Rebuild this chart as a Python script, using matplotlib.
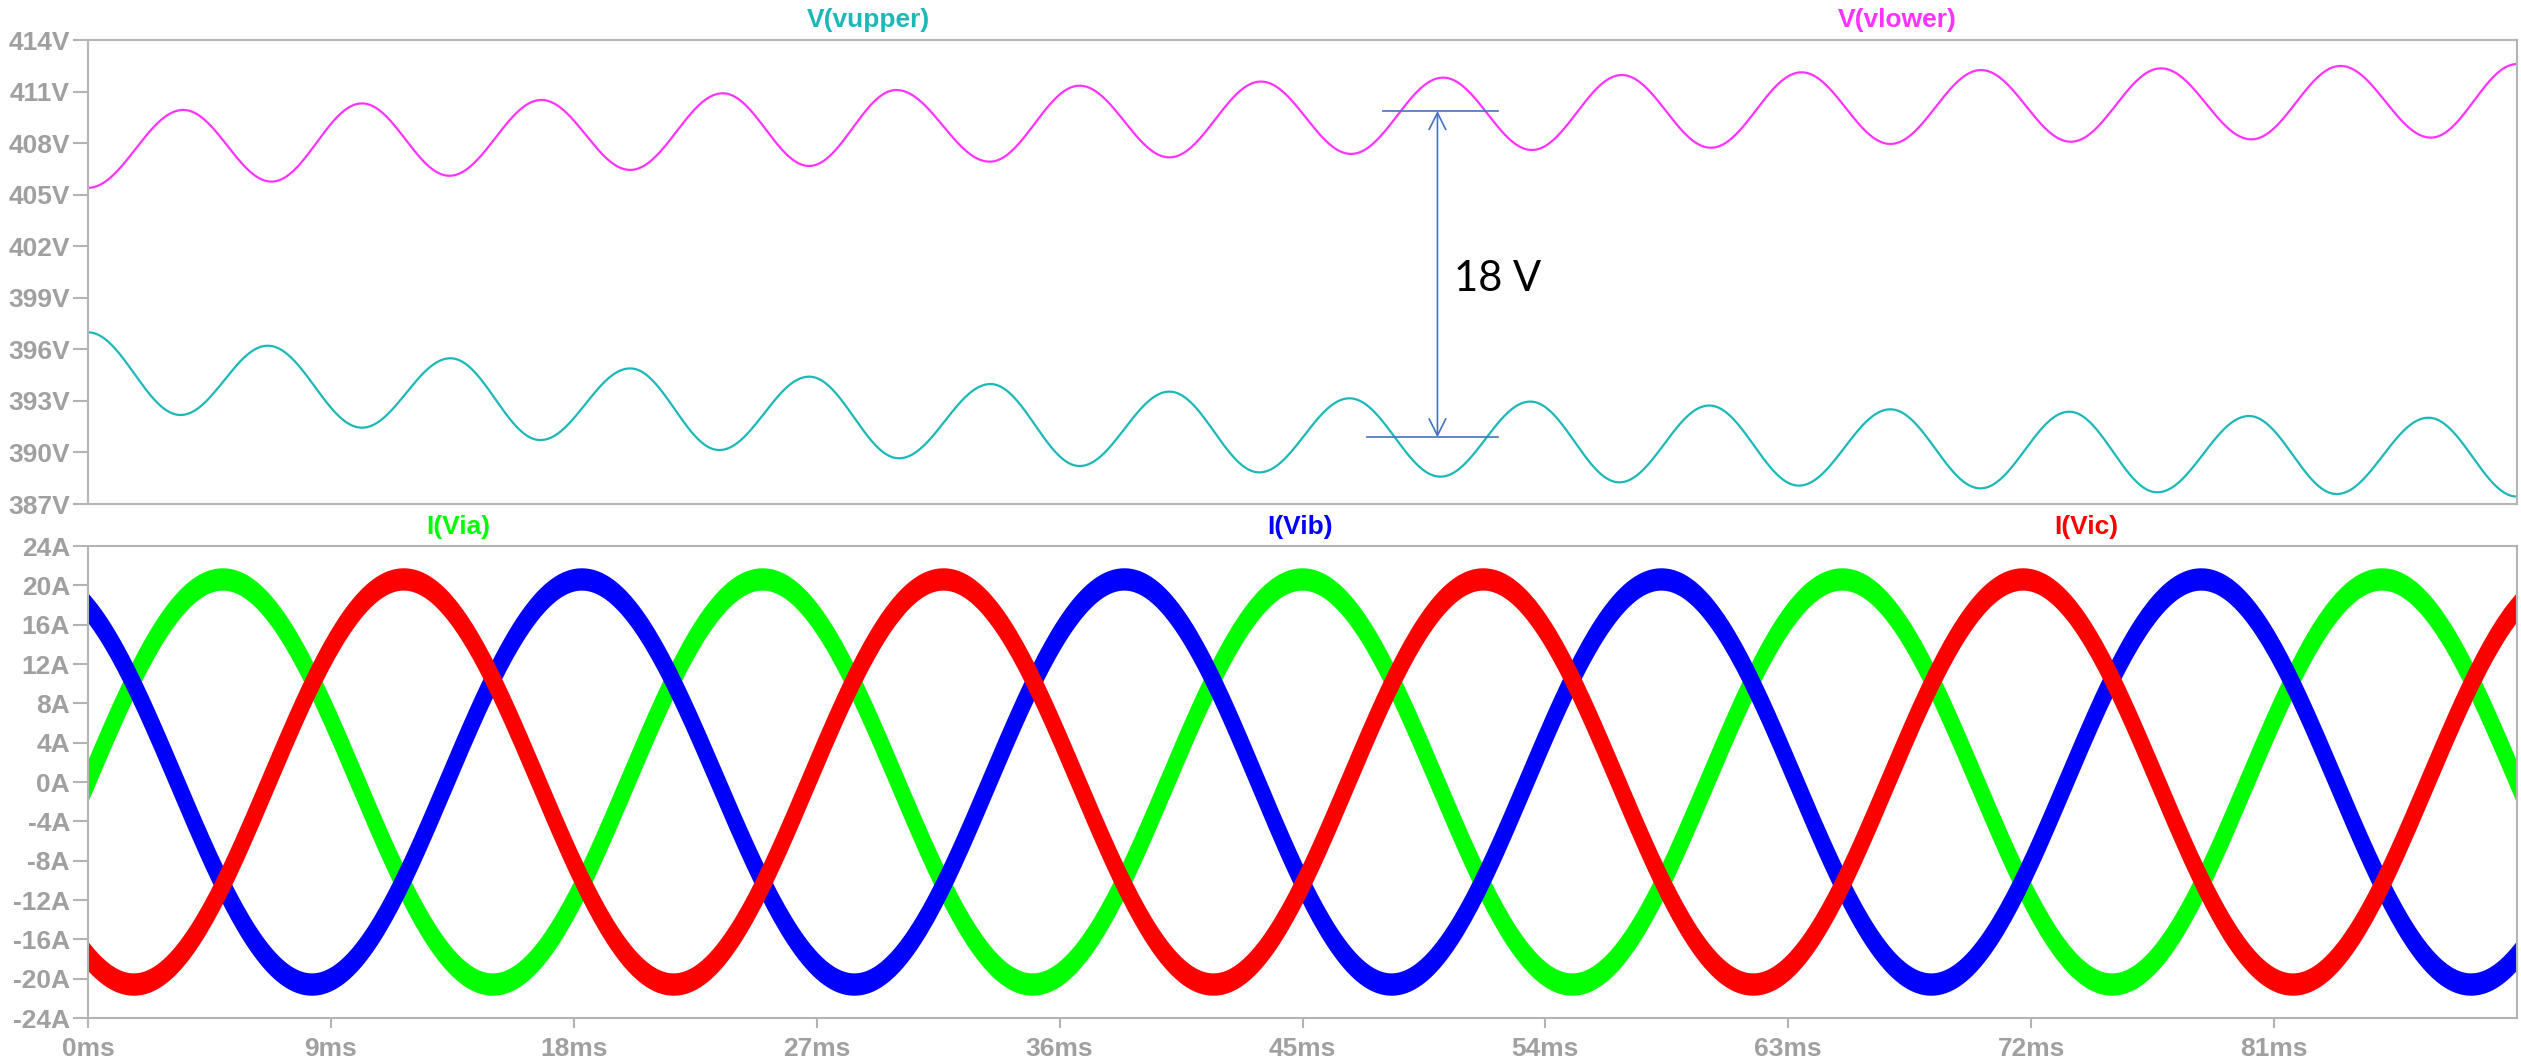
import numpy as np
import matplotlib
matplotlib.use('Agg')
import matplotlib.pyplot as plt

# figure size in pixels (dpi 100)
W, H = 2521, 1063

# extrema: time (ms) and voltage (V)
VLOWER_T = [0.0, 3.53, 6.80, 10.15, 13.39, 16.80, 20.09, 23.52, 26.72, 29.95,
            33.41, 36.74, 40.07, 43.46, 46.80, 50.21, 53.50, 56.83, 60.13, 63.49,
            66.78, 70.14, 73.47, 76.81, 80.16, 83.46, 86.81, 90.0]
VLOWER_V = [405.4, 409.93, 405.76, 410.31, 406.1, 410.51, 406.44, 410.9, 406.67, 411.09,
            406.92, 411.34, 407.17, 411.58, 407.37, 411.81, 407.6, 411.96, 407.73, 412.12,
            407.95, 412.25, 408.08, 412.35, 408.22, 412.49, 408.32, 412.6]

VUPPER_T = [0.0, 3.43, 6.66, 10.15, 13.43, 16.76, 20.09, 23.39, 26.72, 30.05,
            33.44, 36.74, 40.07, 43.40, 46.74, 50.11, 53.44, 56.74, 60.07, 63.39,
            66.78, 70.12, 73.41, 76.67, 80.07, 83.32, 86.72, 90.0]
VUPPER_V = [396.99, 392.18, 396.21, 391.44, 395.48, 390.72, 394.89, 390.14, 394.41, 389.66,
            393.98, 389.21, 393.54, 388.84, 393.15, 388.59, 392.96, 388.26, 392.73, 388.07,
            392.51, 387.91, 392.37, 387.68, 392.12, 387.58, 392.02, 387.43]

# current extrema: time (ms) and current (A)
IA_T = [-5.0, 5.0, 15.0, 25.0, 35.0, 45.0, 55.0, 65.0, 75.0, 85.0, 95.0]
IA_V = [-20.6, 20.6, -20.6, 20.6, -20.6, 20.6, -20.6, 20.6, -20.6, 20.6, -20.6]
IB_T = [-1.7, 8.3, 18.3, 28.4, 38.4, 48.3, 58.3, 68.3, 78.3, 88.3, 98.3]
IB_V = [20.6, -20.6, 20.6, -20.6, 20.6, -20.6, 20.6, -20.6, 20.6, -20.6, 20.6]
IC_T = [-8.3, 1.7, 11.7, 21.7, 31.7, 41.7, 51.7, 61.7, 71.7, 81.7, 91.7]
IC_V = [20.6, -20.6, 20.6, -20.6, 20.6, -20.6, 20.6, -20.6, 20.6, -20.6, 20.6]

# half height of the switching-noise band on the currents (A)
NOISE_BAND = 0.5

# annotation levels (V) and position (ms)
MARK_HIGH = 409.87
MARK_LOW = 390.88
MARK_T = 50.0

V_TICKS = [387, 390, 393, 396, 399, 402, 405, 408, 411, 414]
V_LABELS = ['387V', '390V', '393V', '396V', '399V', '402V', '405V', '408V', '411V', '414V']
I_TICKS = [-24, -20, -16, -12, -8, -4, 0, 4, 8, 12, 16, 20, 24]
I_LABELS = ['-24A', '-20A', '-16A', '-12A', '-8A', '-4A', '0A', '4A', '8A',
            '12A', '16A', '20A', '24A']
T_TICKS = [0, 9, 18, 27, 36, 45, 54, 63, 72, 81]
T_LABELS = ['0ms', '9ms', '18ms', '27ms', '36ms', '45ms', '54ms', '63ms', '72ms', '81ms']

CYAN = '#1cb8b8'
MAGENTA = '#ff33ff'
GREEN = '#00ff00'
BLUE = '#0000ff'
RED = '#ff0000'
GRID = '#b4b4b4'
LABEL = '#a0a0a0'
ANNOT = '#4472c4'

plt.rcParams['font.family'] = ['Liberation Sans', 'DejaVu Sans']


def cosine_join(t_pts, v_pts, n=80):
    tt, vv = [], []
    for i in range(len(t_pts) - 1):
        s = np.linspace(0, 1, n, endpoint=False)
        tt.append(t_pts[i] + (t_pts[i + 1] - t_pts[i]) * s)
        vv.append(v_pts[i] + (v_pts[i + 1] - v_pts[i]) * (1 - np.cos(np.pi * s)) / 2)
    tt.append([t_pts[-1]])
    vv.append([v_pts[-1]])
    return np.concatenate(tt), np.concatenate(vv)


def style_axes(ax, ticks, labels, show_x):
    for sp in ax.spines.values():
        sp.set_color(GRID)
        sp.set_linewidth(1.5)
    ax.set_xlim(0, 90)
    ax.set_ylim(ticks[0], ticks[-1])
    ax.set_yticks(ticks)
    ax.set_yticklabels(labels)
    ax.tick_params(axis='y', direction='out', length=11, width=1.5, color=GRID,
                   labelcolor=LABEL, labelsize=19, pad=2)
    for lbl in ax.get_yticklabels():
        lbl.set_fontweight('bold')
    if show_x:
        ax.set_xticks(T_TICKS)
        ax.set_xticklabels(T_LABELS)
        ax.tick_params(axis='x', direction='out', length=7, width=1.5, color=GRID,
                       labelcolor=LABEL, labelsize=19, pad=7)
        for lbl in ax.get_xticklabels():
            lbl.set_fontweight('bold')
    else:
        ax.set_xticks([])


def fig_rect(x0, y0, x1, y1):
    return [x0 / W, 1 - y1 / H, (x1 - x0) / W, (y1 - y0) / H]


def main():
    fig = plt.figure(figsize=(W / 100, H / 100), dpi=100)

    ax_v = fig.add_axes(fig_rect(88, 40, 2517, 504))
    ax_i = fig.add_axes(fig_rect(88, 546, 2517, 1018))

    # voltages
    t, v = cosine_join(VLOWER_T, VLOWER_V)
    ax_v.plot(t, v, color=MAGENTA, lw=1.6)
    t, v = cosine_join(VUPPER_T, VUPPER_V)
    ax_v.plot(t, v, color=CYAN, lw=1.6)
    style_axes(ax_v, V_TICKS, V_LABELS, False)

    # 18 V annotation
    ax_v.plot([48.0, 52.26], [MARK_HIGH, MARK_HIGH], color=ANNOT, lw=1.2)
    ax_v.plot([47.4, 52.26], [MARK_LOW, MARK_LOW], color=ANNOT, lw=1.2)
    ax_v.annotate('', xy=(MARK_T, MARK_HIGH), xytext=(MARK_T, MARK_LOW),
                  arrowprops=dict(arrowstyle='<->,head_length=1.2,head_width=0.6',
                                  color=ANNOT, lw=1.2, shrinkA=0, shrinkB=0,
                                  mutation_scale=10))
    ax_v.text(MARK_T + 0.6, (MARK_HIGH + MARK_LOW) / 2 - 0.3, '18 V', fontsize=30,
              family=['Lato', 'DejaVu Sans'], color='black', ha='left', va='center')

    # currents: thick band to stand for the switching noise
    for ts, vs, col in [(IA_T, IA_V, GREEN), (IB_T, IB_V, BLUE), (IC_T, IC_V, RED)]:
        t, v = cosine_join(ts, vs)
        ax_i.fill_between(t, v - NOISE_BAND, v + NOISE_BAND, color=col, lw=0)
        ax_i.plot(t, v + NOISE_BAND, color=col, lw=9, solid_capstyle='butt')
        ax_i.plot(t, v - NOISE_BAND, color=col, lw=9, solid_capstyle='butt')
    style_axes(ax_i, I_TICKS, I_LABELS, True)

    # trace names
    names = [('V(vupper)', CYAN, 868, 20), ('V(vlower)', MAGENTA, 1897, 20),
             ('I(Via)', GREEN, 458, 527), ('I(Vib)', BLUE, 1300, 527),
             ('I(Vic)', RED, 2086, 527)]
    for name, col, x, y in names:
        fig.text(x / W, 1 - y / H, name, color=col, fontsize=19, fontweight='bold',
                 ha='center', va='center')

    fig.savefig('out.png', dpi=100, facecolor='white')


if __name__ == '__main__':
    main()
